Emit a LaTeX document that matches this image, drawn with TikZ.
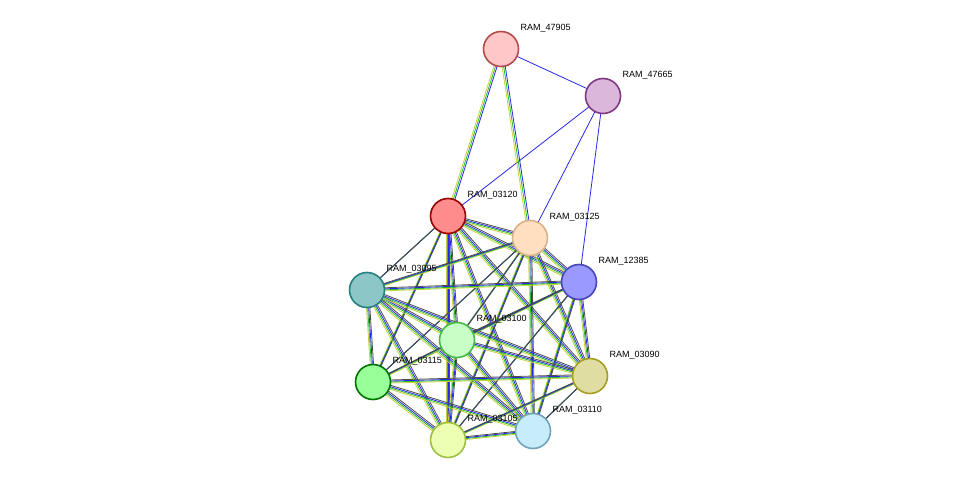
\documentclass[tikz,border=0pt]{standalone}
\usepackage{fontspec}
\setmainfont{Liberation Sans}
\usetikzlibrary{calc}
\tikzset{
  prot/.style={circle,draw,line width=1.6pt,minimum size=35pt,inner sep=0pt},
  lab/.style={font=\fontsize{9}{10}\selectfont,anchor=west},
  ev/.style={line width=0.8pt}
}
\definecolor{eyel}{RGB}{200,210,60}
\definecolor{egrn}{RGB}{40,190,40}
\definecolor{eblu}{RGB}{40,40,230}
\definecolor{esky}{RGB}{110,180,230}
\begin{document}
\begin{tikzpicture}[x=1pt,y=-1pt]
\useasboundingbox (0,0) rectangle (976,486);
% coordinates of the proteins
\coordinate (p47905) at (501,49);
\coordinate (p47665) at (603,96);
\coordinate (p03120) at (448,216);
\coordinate (p03125) at (530,238);
\coordinate (p03095) at (367,290);
\coordinate (p12385) at (579,282);
\coordinate (p03100) at (457,340);
\coordinate (p03115) at (373,382);
\coordinate (p03090) at (590,376);
\coordinate (p03105) at (448,440);
\coordinate (p03110) at (533,431);

% single evidence edges
\foreach \a/\b in {47665/47905,47665/03120,47665/03125,47665/12385}
  \draw[ev,eblu] (p\a) -- (p\b);

% bundles
\foreach \a/\b in {47905/03120,47905/03125}{
  \draw[ev,eyel,transform canvas={shift={(-1.6pt,0)}}] (p\a) -- (p\b);
  \draw[ev,egrn,transform canvas={shift={(0,0)}}] (p\a) -- (p\b);
  \draw[ev,eblu,transform canvas={shift={(1.6pt,0)}}] (p\a) -- (p\b);
}
\foreach \a/\b in {03120/03125,03120/03095,03120/12385,03120/03100,03120/03115,03120/03090,03120/03105,03120/03110,
  03125/03095,03125/12385,03125/03100,03125/03115,03125/03090,03125/03105,03125/03110,
  03095/12385,03095/03100,03095/03115,03095/03090,03095/03105,03095/03110,
  12385/03100,12385/03115,12385/03090,12385/03105,12385/03110,
  03100/03115,03100/03090,03100/03105,03100/03110,
  03115/03090,03115/03105,03115/03110,
  03090/03105,03090/03110,03105/03110}{
  \draw[ev,eyel,transform canvas={shift={(-1.6pt,-1.6pt)}}] (p\a) -- (p\b);
  \draw[ev,egrn,transform canvas={shift={(-0.5pt,-0.5pt)}}] (p\a) -- (p\b);
  \draw[ev,eblu,transform canvas={shift={(0.5pt,0.5pt)}}] (p\a) -- (p\b);
  \draw[ev,black!70,transform canvas={shift={(1.6pt,1.6pt)}}] (p\a) -- (p\b);
}

% labels
\foreach \n in {47905,47665,03120,03125,03095,12385,03100,03115,03090,03105,03110}
  \node[lab] at ($(p\n)+(16,-21)$) {RAM\_\n};

% proteins
\node[prot,fill=red!22!white,draw=red!40!gray] (n47905) at (p47905) {};
\node[prot,fill=violet!28!white,draw=violet!55!gray] (n47665) at (p47665) {};
\node[prot,fill=red!45!white,draw=red!60!black] (n03120) at (p03120) {};
\node[prot,fill=orange!25!white,draw=brown!60!white] (n03125) at (p03125) {};
\node[prot,fill=teal!45!white,draw=teal!70!gray] (n03095) at (p03095) {};
\node[prot,fill=blue!40!white,draw=blue!45!gray] (n12385) at (p12385) {};
\node[prot,fill=green!22!white,draw=green!45!gray] (n03100) at (p03100) {};
\node[prot,fill=green!40!white,draw=green!45!black] (n03115) at (p03115) {};
\node[prot,fill=yellow!50!gray!55!white,draw=olive!80!white] (n03090) at (p03090) {};
\node[prot,fill=lime!30!white,draw=lime!50!gray] (n03105) at (p03105) {};
\node[prot,fill=cyan!22!white,draw=cyan!40!gray] (n03110) at (p03110) {};
\end{tikzpicture}
\end{document}
